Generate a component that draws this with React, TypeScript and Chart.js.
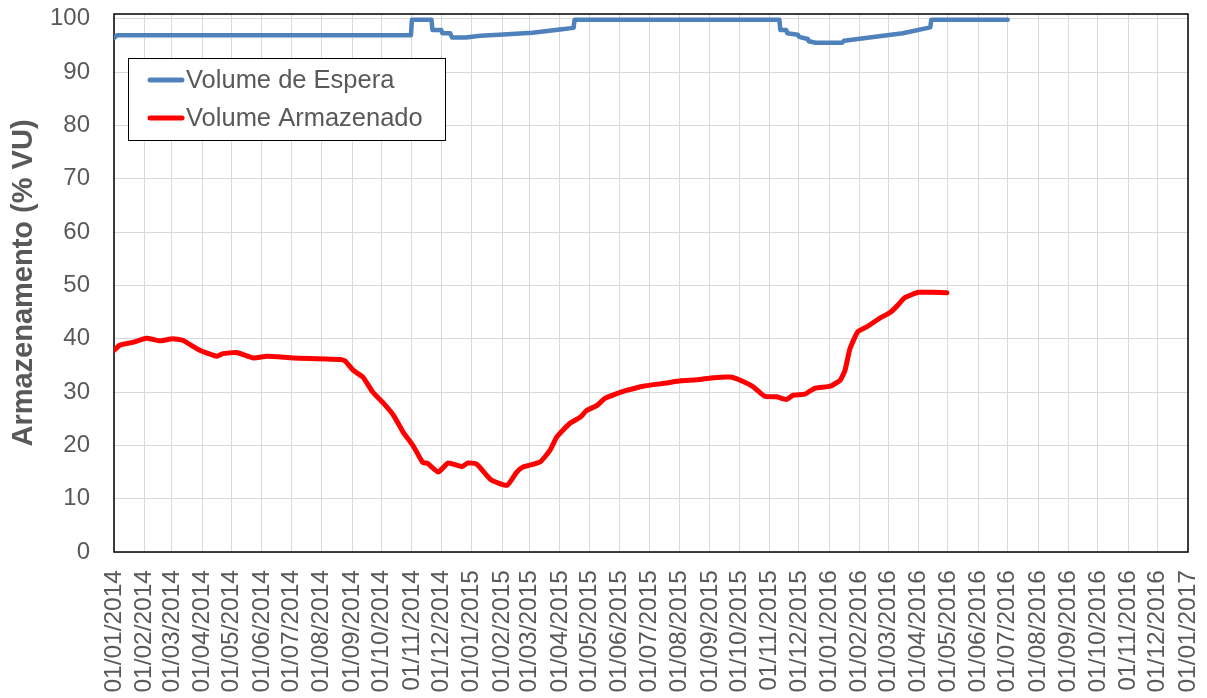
import React, { useEffect, useRef } from "react";
import { Chart, registerables } from "chart.js";

Chart.register(...registerables);

// ---------- DATA ----------
const seriesLabels = ["Volume de Espera", "Volume Armazenado"];

const esperaDates = [
  "2014-01-01", "2014-01-04", "2014-10-31", "2014-11-01", "2014-11-21", "2014-11-22",
  "2014-12-01", "2014-12-02", "2014-12-10", "2014-12-12", "2014-12-26", "2015-01-10",
  "2015-01-29", "2015-03-04", "2015-04-01", "2015-04-15", "2015-04-16", "2015-11-11",
  "2015-11-12", "2015-11-18", "2015-11-19", "2015-11-30", "2015-12-01", "2015-12-10",
  "2015-12-11", "2015-12-18", "2016-01-14", "2016-01-16", "2016-02-11", "2016-03-16",
  "2016-04-13", "2016-04-14", "2016-07-01",
];
const esperaValues = [
  96.4, 96.9, 96.9, 99.8, 99.8, 97.9,
  97.9, 97.3, 97.3, 96.5, 96.5, 96.8,
  97.0, 97.4, 98.0, 98.3, 99.8, 99.8,
  97.9, 97.9, 97.3, 97.0, 96.6, 96.2,
  95.8, 95.5, 95.5, 95.9, 96.5, 97.3,
  98.4, 99.8, 99.8,
];

const armazenadoDates = [
  "2014-01-01", "2014-01-07", "2014-01-20", "2014-02-03", "2014-02-17", "2014-03-02",
  "2014-03-12", "2014-03-30", "2014-04-16", "2014-04-22", "2014-05-06", "2014-05-23",
  "2014-06-06", "2014-07-03", "2014-08-20", "2014-08-25", "2014-09-02", "2014-09-12",
  "2014-09-22", "2014-10-02", "2014-10-13", "2014-10-23", "2014-11-02", "2014-11-12",
  "2014-11-17", "2014-11-28", "2014-12-08", "2014-12-22", "2014-12-28", "2015-01-06",
  "2015-01-21", "2015-02-06", "2015-02-16", "2015-02-22", "2015-03-12", "2015-03-22",
  "2015-03-29", "2015-04-11", "2015-04-22", "2015-04-28", "2015-05-09", "2015-05-17",
  "2015-05-29", "2015-06-08", "2015-06-25", "2015-07-19", "2015-08-02", "2015-08-19",
  "2015-09-05", "2015-09-22", "2015-10-02", "2015-10-15", "2015-10-27", "2015-11-08",
  "2015-11-18", "2015-11-25", "2015-12-07", "2015-12-17", "2016-01-02", "2016-01-12",
  "2016-01-17", "2016-01-22", "2016-01-30", "2016-02-08", "2016-02-22", "2016-03-03",
  "2016-03-11", "2016-03-18", "2016-04-01", "2016-04-16", "2016-04-30",
];
const armazenadoValues = [
  37.8, 38.8, 39.3, 40.1, 39.6, 40.0,
  39.7, 37.8, 36.7, 37.2, 37.4, 36.4,
  36.7, 36.4, 36.1, 35.8, 34.1, 32.8,
  30.0, 28.1, 25.7, 22.5, 20.0, 16.8,
  16.6, 15.0, 16.7, 16.0, 16.7, 16.5,
  13.5, 12.5, 15.0, 15.9, 16.9, 19.1,
  21.6, 24.1, 25.3, 26.5, 27.5, 28.8,
  29.7, 30.3, 31.1, 31.7, 32.1, 32.3,
  32.7, 32.8, 32.2, 31.0, 29.2, 29.1,
  28.6, 29.4, 29.6, 30.7, 31.1, 32.2,
  34.1, 38.1, 41.3, 42.2, 43.9, 44.9,
  46.3, 47.7, 48.7, 48.7, 48.6,
];

const tickYears = [2014, 2015, 2016];
const yTickValues = [0, 10, 20, 30, 40, 50, 60, 70, 80, 90, 100];
const yTitle = "Armazenamento (% VU)";

// ---------- helpers ----------
const EPOCH = Date.UTC(2014, 0, 1);
const DAY = 86400000;
const toDay = (s: string) => {
  const [y, m, d] = s.split("-").map(Number);
  return (Date.UTC(y, m - 1, d) - EPOCH) / DAY;
};
const monthTicks: number[] = [];
tickYears.forEach((y) => {
  for (let m = 0; m < 12; m++) monthTicks.push((Date.UTC(y, m, 1) - EPOCH) / DAY);
});
monthTicks.push((Date.UTC(2017, 0, 1) - EPOCH) / DAY);
const X_MAX = monthTicks[monthTicks.length - 1];

const pad2 = (n: number) => (n < 10 ? "0" + n : "" + n);
const fmtDay = (v: number) => {
  const d = new Date(EPOCH + Math.round(v) * DAY);
  return `${pad2(d.getUTCDate())}/${pad2(d.getUTCMonth() + 1)}/${d.getUTCFullYear()}`;
};

const FONT = '"Liberation Sans", Arial, sans-serif';
const GRAY = "#595959";
const BLUE = "#4f81bd";
const RED = "#ff0000";

const zeroPadding = (s: any) => {
  s.paddingTop = 0;
  s.paddingBottom = 0;
  s.paddingLeft = 0;
  s.paddingRight = 0;
};

const frameAndLegend = {
  id: "frameAndLegend",
  beforeDatasetsDraw(chart: any) {
    const { ctx, chartArea } = chart;
    ctx.save();
    ctx.strokeStyle = "#000";
    ctx.lineWidth = 1.5;
    ctx.strokeRect(chartArea.left, chartArea.top, chartArea.right - chartArea.left, chartArea.bottom - chartArea.top);
    ctx.restore();
  },
  afterDatasetsDraw(chart: any) {
    const { ctx } = chart;
    ctx.save();
    const bx = 128, by = 58, bw = 317, bh = 82;
    ctx.fillStyle = "#fff";
    ctx.fillRect(bx, by, bw, bh);
    ctx.strokeStyle = "#000";
    ctx.lineWidth = 1;
    ctx.strokeRect(bx + 0.5, by + 0.5, bw, bh);
    const rows = [80, 118];
    chart.data.datasets.forEach((ds: any, i: number) => {
      const y = rows[i];
      ctx.strokeStyle = ds.borderColor;
      ctx.lineWidth = 5;
      ctx.lineCap = "round";
      ctx.beginPath();
      ctx.moveTo(150, y);
      ctx.lineTo(182, y);
      ctx.stroke();
      ctx.fillStyle = GRAY;
      ctx.font = `25.5px ${FONT}`;
      ctx.textBaseline = "middle";
      ctx.textAlign = "left";
      ctx.fillText(ds.label, 186, y + 1);
    });
    ctx.restore();
  },
};

export default function App() {
  const ref = useRef<HTMLCanvasElement | null>(null);

  useEffect(() => {
    if (!ref.current) return;
    const espera = esperaDates.map((d, i) => ({ x: toDay(d), y: esperaValues[i] }));
    const armaz = armazenadoDates.map((d, i) => ({ x: toDay(d), y: armazenadoValues[i] }));
    const chart = new Chart(ref.current, {
      type: "line",
      data: {
        datasets: [
          {
            label: seriesLabels[0],
            data: espera,
            borderColor: BLUE,
            backgroundColor: BLUE,
            borderWidth: 4.5,
            pointRadius: 0,
            tension: 0,
            borderJoinStyle: "round",
            borderCapStyle: "round",
          },
          {
            label: seriesLabels[1],
            data: armaz,
            borderColor: RED,
            backgroundColor: RED,
            borderWidth: 5,
            pointRadius: 0,
            tension: 0.15,
            borderJoinStyle: "round",
            borderCapStyle: "round",
          },
        ],
      },
      options: {
        responsive: false,
        animation: false,
        layout: { padding: { top: 14, right: 19, left: 0, bottom: 0 } },
        plugins: { legend: { display: false }, tooltip: { enabled: false } },
        scales: {
          x: {
            type: "linear",
            min: 0,
            max: X_MAX,
            afterBuildTicks: (axis: any) => {
              axis.ticks = monthTicks.map((v) => ({ value: v }));
            },
            afterFit: (s: any) => {
              s.height = 146;
              zeroPadding(s);
            },
            grid: { color: "#d9d9d9", lineWidth: 1, drawTicks: false },
            border: { display: false },
            ticks: {
              autoSkip: false,
              minRotation: 90,
              maxRotation: 90,
              padding: 18,
              color: GRAY,
              font: { family: FONT, size: 24.5 },
              callback: (v: any) => fmtDay(Number(v)),
            },
          },
          y: {
            min: 0,
            max: 100.9,
            afterBuildTicks: (axis: any) => {
              axis.ticks = yTickValues.map((v) => ({ value: v }));
            },
            afterFit: (s: any) => {
              s.width = 114;
              zeroPadding(s);
            },
            grid: { color: "#d9d9d9", lineWidth: 1, drawTicks: false },
            border: { display: false },
            title: {
              display: true,
              text: yTitle,
              color: GRAY,
              font: { family: FONT, size: 29, weight: "bold" },
              padding: { top: 7, bottom: 0 },
            },
            ticks: {
              padding: 24,
              color: GRAY,
              font: { family: FONT, size: 24 },
              callback: (v: any) => String(v),
            },
          },
        },
      },
      plugins: [frameAndLegend],
    } as any);
    return () => chart.destroy();
  }, []);

  return (
    <div style={{ position: "absolute", left: 0, top: 0, width: 1207, height: 698, background: "#fff" }}>
      <canvas ref={ref} width={1207} height={698} style={{ display: "block" }} />
    </div>
  );
}
